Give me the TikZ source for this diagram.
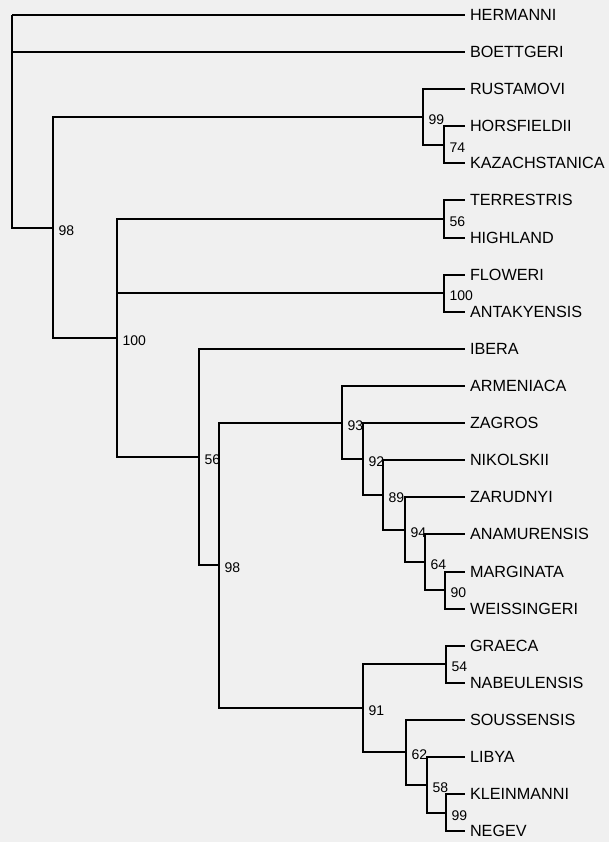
\documentclass[tikz,border=0pt]{standalone}
\usepackage{fontspec}
\setmainfont{Liberation Sans}
\begin{document}
\begin{tikzpicture}[x=1pt, y=-1pt, line width=2pt,
    taxon/.style={anchor=west, inner xsep=5pt, inner ysep=0pt, outer sep=0pt, font=\fontsize{16.2}{18}\selectfont},
    boot/.style={anchor=west, inner sep=0pt, xshift=4.5pt, yshift=-3pt, font=\fontsize{14}{15}\selectfont}]
    \useasboundingbox[fill=black!6] (0,0) rectangle (609,842);

    % taxa
    \node[taxon] (hermanni) at (465, 15) {HERMANNI};
    \node[taxon] (boettgeri) at (465, 52) {BOETTGERI};
    \node[taxon] (rustamovi) at (465, 89) {RUSTAMOVI};
    \node[taxon] (horsfieldii) at (465, 126) {HORSFIELDII};
    \node[taxon] (kazachstanica) at (465, 163) {KAZACHSTANICA};
    \node[taxon] (terrestris) at (465, 200) {TERRESTRIS};
    \node[taxon] (highland) at (465, 238) {HIGHLAND};
    \node[taxon] (floweri) at (465, 275) {FLOWERI};
    \node[taxon] (antakyensis) at (465, 312) {ANTAKYENSIS};
    \node[taxon] (ibera) at (465, 349) {IBERA};
    \node[taxon] (armeniaca) at (465, 386) {ARMENIACA};
    \node[taxon] (zagros) at (465, 423) {ZAGROS};
    \node[taxon] (nikolskii) at (465, 460) {NIKOLSKII};
    \node[taxon] (zarudnyi) at (465, 497) {ZARUDNYI};
    \node[taxon] (anamurensis) at (465, 534) {ANAMURENSIS};
    \node[taxon] (marginata) at (465, 572) {MARGINATA};
    \node[taxon] (weissingeri) at (465, 609) {WEISSINGERI};
    \node[taxon] (graeca) at (465, 646) {GRAECA};
    \node[taxon] (nabeulensis) at (465, 683) {NABEULENSIS};
    \node[taxon] (soussensis) at (465, 720) {SOUSSENSIS};
    \node[taxon] (libya) at (465, 757) {LIBYA};
    \node[taxon] (kleinmanni) at (465, 794) {KLEINMANNI};
    \node[taxon] (negev) at (465, 831) {NEGEV};

    % clades
    \coordinate (root) at (12, 15);
    \coordinate (n98a) at (53, 228);
    \coordinate (n99a) at (423, 117);
    \coordinate (n74) at (444, 145);
    \coordinate (n100a) at (117, 338);
    \coordinate (n56a) at (444, 219);
    \coordinate (n100b) at (444, 293);
    \coordinate (n56b) at (199, 457);
    \coordinate (n98b) at (219, 565);
    \coordinate (n93) at (342, 423);
    \coordinate (n92) at (363, 459);
    \coordinate (n89) at (383, 495);
    \coordinate (n94) at (405, 530);
    \coordinate (n64) at (425, 562);
    \coordinate (n90) at (445, 590);
    \coordinate (n91) at (363, 708);
    \coordinate (n54) at (446, 664);
    \coordinate (n62) at (406, 752);
    \coordinate (n58) at (427, 785);
    \coordinate (n99b) at (446, 813);

    % bootstrap values
    \node[boot] (b98a) at (n98a) {98};
    \node[boot] (b99a) at (n99a) {99};
    \node[boot] (b74) at (n74) {74};
    \node[boot] (b100a) at (n100a) {100};
    \node[boot] (b56a) at (n56a) {56};
    \node[boot] (b100b) at (n100b) {100};
    \node[boot] (b56b) at (n56b) {56};
    \node[boot] (b98b) at (n98b) {98};
    \node[boot] (b93) at (n93) {93};
    \node[boot] (b92) at (n92) {92};
    \node[boot] (b89) at (n89) {89};
    \node[boot] (b94) at (n94) {94};
    \node[boot] (b64) at (n64) {64};
    \node[boot] (b90) at (n90) {90};
    \node[boot] (b91) at (n91) {91};
    \node[boot] (b54) at (n54) {54};
    \node[boot] (b62) at (n62) {62};
    \node[boot] (b58) at (n58) {58};
    \node[boot] (b99b) at (n99b) {99};

    % branches
    \draw (root) |- (hermanni.west) (root) |- (boettgeri.west) (root) |- (n98a);
    \draw (n98a) |- (n99a) (n98a) |- (n100a);
    \draw (n99a) |- (rustamovi.west) (n99a) |- (n74);
    \draw (n74) |- (horsfieldii.west) (n74) |- (kazachstanica.west);
    \draw (n100a) |- (n56a) (n100a) |- (n100b) (n100a) |- (n56b);
    \draw (n56a) |- (terrestris.west) (n56a) |- (highland.west);
    \draw (n100b) |- (floweri.west) (n100b) |- (antakyensis.west);
    \draw (n56b) |- (ibera.west) (n56b) |- (n98b);
    \draw (n98b) |- (n93) (n98b) |- (n91);
    \draw (n93) |- (armeniaca.west) (n93) |- (n92);
    \draw (n92) |- (zagros.west) (n92) |- (n89);
    \draw (n89) |- (nikolskii.west) (n89) |- (n94);
    \draw (n94) |- (zarudnyi.west) (n94) |- (n64);
    \draw (n64) |- (anamurensis.west) (n64) |- (n90);
    \draw (n90) |- (marginata.west) (n90) |- (weissingeri.west);
    \draw (n91) |- (n54) (n91) |- (n62);
    \draw (n54) |- (graeca.west) (n54) |- (nabeulensis.west);
    \draw (n62) |- (soussensis.west) (n62) |- (n58);
    \draw (n58) |- (libya.west) (n58) |- (n99b);
    \draw (n99b) |- (kleinmanni.west) (n99b) |- (negev.west);
\end{tikzpicture}
\end{document}
